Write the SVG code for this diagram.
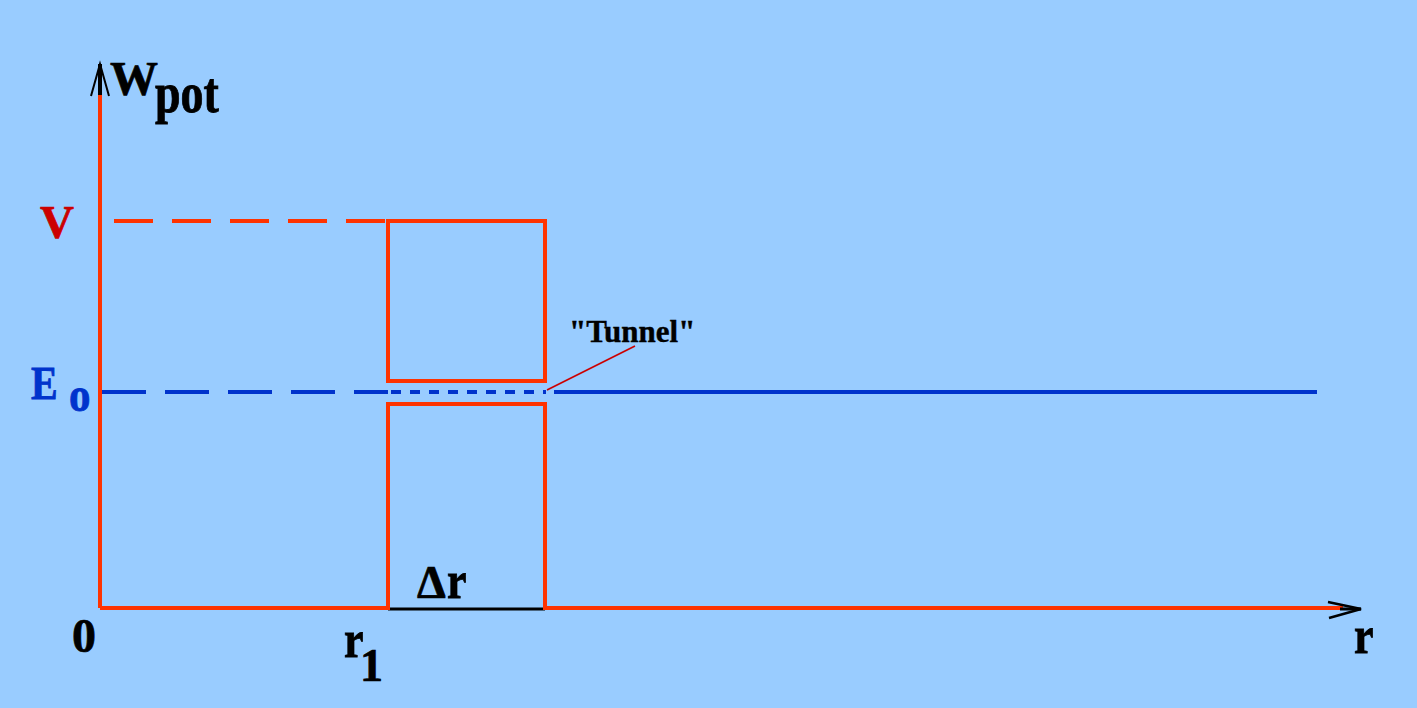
<svg xmlns="http://www.w3.org/2000/svg" width="1417" height="708" viewBox="0 0 1417 708">
<style>
.lbl{font-family:"Liberation Serif","Times New Roman",serif;font-weight:bold;stroke-width:0.7;}
.red{stroke:#ff3300;fill:none;stroke-width:4;}
.blue{stroke:#0033cc;fill:none;stroke-width:4;}
.blk{stroke:#000;fill:none;}
</style>
<rect width="1417" height="708" fill="#99ccff"/>
<g id="connectors">
<line class="red" x1="114" y1="221" x2="388" y2="221" stroke-dasharray="39 19"/>
<line class="blue" x1="102" y1="392" x2="388" y2="392" stroke-dasharray="44 19"/>
<line class="blue" x1="391" y1="392" x2="546" y2="392" stroke-dasharray="10 9"/>
<line class="blue" x1="554" y1="392" x2="1317" y2="392"/>
<line class="blk" x1="388" y1="609" x2="545" y2="609" stroke-width="3"/>
<line x1="100" y1="96" x2="100" y2="64" stroke="#000" stroke-width="4"/>
<polyline class="blk" points="91,96 100,64 109,96" stroke-width="2"/>
<line class="red" x1="100" y1="95" x2="100" y2="608"/>
<polyline class="red" points="100,608 388,608 388,404 545,404 545,608 1343,608" stroke-width="5"/>
<rect class="red" x="388" y="221" width="157" height="160"/>
<polyline class="blk" points="1328,602 1361,609 1329,618" stroke-width="2.5"/>
<line x1="1340" y1="609" x2="1361" y2="609" stroke="#000" stroke-width="3"/>
<line x1="547" y1="390" x2="635" y2="346" stroke="#cc0000" stroke-width="1.6"/>
</g>
<g id="wpot" class="lbl" fill="#000" stroke="#000">
<text x="110" y="95" font-size="48">W</text>
<text transform="translate(155,112) scale(1,1.22)" font-size="46">pot</text>
</g>
<g id="V" class="lbl" fill="#cc0000" stroke="#cc0000"><text x="40" y="238" font-size="47">V</text></g>
<g id="E0" class="lbl" fill="#0033cc" stroke="#0033cc">
<text transform="translate(31,399) scale(1,1.18)" font-size="40">E</text>
<text transform="translate(69,411) scale(1,1.12)" font-size="43">o</text>
</g>
<g id="tunnel" class="lbl" fill="#000" stroke="#000"><text x="569" y="342" font-size="31" stroke-width="0.4">"Tunnel"</text></g>
<g id="zero" class="lbl" fill="#000" stroke="#000"><text x="72" y="652" font-size="48">0</text></g>
<g id="r1" class="lbl" fill="#000" stroke="#000">
<text transform="translate(344,657) scale(1,1.2)" font-size="44">r</text>
<text x="360" y="681" font-size="46">1</text>
</g>
<g id="dr" class="lbl" fill="#000" stroke="#000">
<text x="417" y="598" font-size="46">Δ</text>
<text transform="translate(447,598) scale(1,1.2)" font-size="44">r</text>
</g>
<g id="r" class="lbl" fill="#000" stroke="#000"><text transform="translate(1354,653) scale(1,1.2)" font-size="44">r</text></g>
</svg>
